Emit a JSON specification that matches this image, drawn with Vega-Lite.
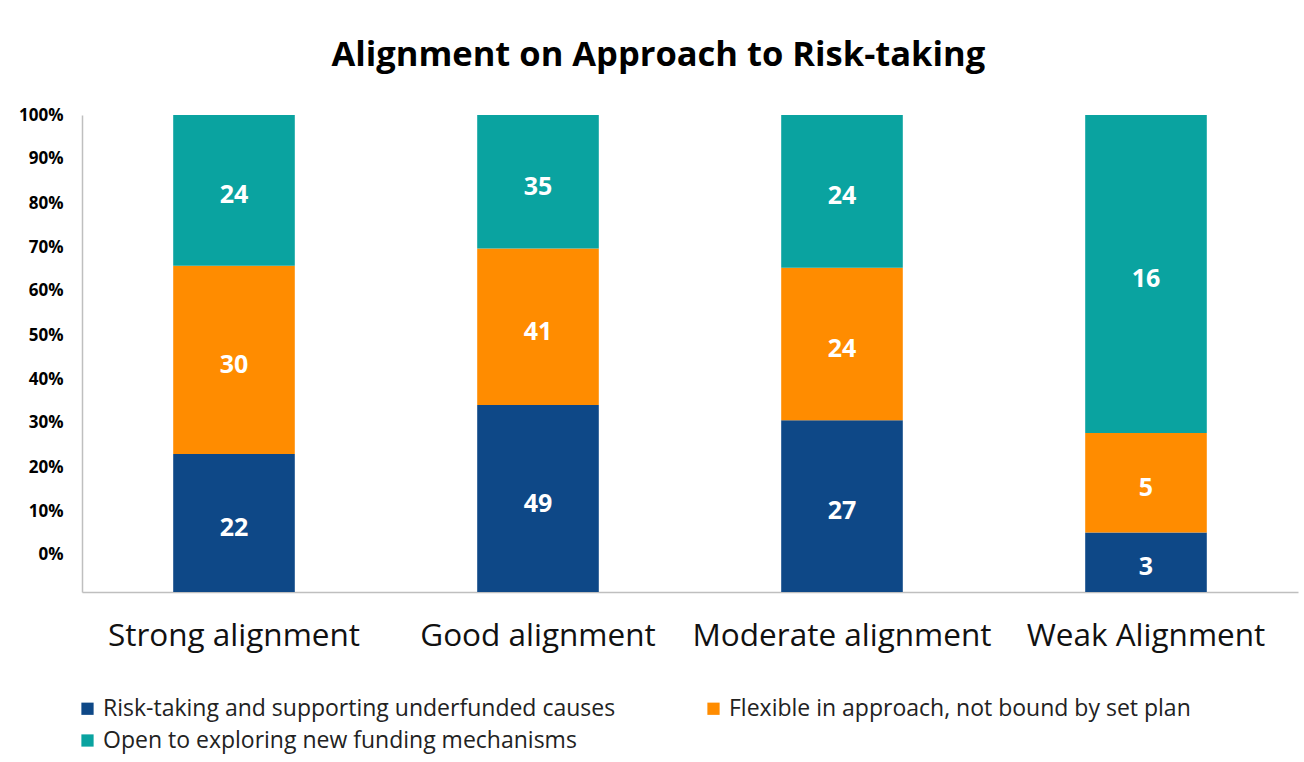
{
  "$schema": "https://vega.github.io/schema/vega-lite/v6.json",
  "autosize": "none",
  "width": 1216,
  "height": 477,
  "padding": {"left": 82, "top": 115, "right": 6, "bottom": 170},
  "background": "white",
  "config": {
    "view": {"stroke": null},
    "font": "Open Sans"
  },
  "title": {
    "text": "Alignment on Approach to Risk-taking",
    "fontSize": 34.5,
    "fontWeight": "bold",
    "font": "Open Sans",
    "color": "#000000",
    "anchor": "middle",
    "frame": "bounds",
    "offset": 33
  },
  "data": {
    "values": [
      {"group": "Strong alignment", "series": "Risk-taking and supporting underfunded causes", "s": 1, "value": 22},
      {"group": "Strong alignment", "series": "Flexible in approach, not bound by set plan", "s": 2, "value": 30},
      {"group": "Strong alignment", "series": "Open to exploring new funding mechanisms", "s": 3, "value": 24},
      {"group": "Good alignment", "series": "Risk-taking and supporting underfunded causes", "s": 1, "value": 49},
      {"group": "Good alignment", "series": "Flexible in approach, not bound by set plan", "s": 2, "value": 41},
      {"group": "Good alignment", "series": "Open to exploring new funding mechanisms", "s": 3, "value": 35},
      {"group": "Moderate alignment", "series": "Risk-taking and supporting underfunded causes", "s": 1, "value": 27},
      {"group": "Moderate alignment", "series": "Flexible in approach, not bound by set plan", "s": 2, "value": 24},
      {"group": "Moderate alignment", "series": "Open to exploring new funding mechanisms", "s": 3, "value": 24},
      {"group": "Weak Alignment", "series": "Risk-taking and supporting underfunded causes", "s": 1, "value": 3},
      {"group": "Weak Alignment", "series": "Flexible in approach, not bound by set plan", "s": 2, "value": 5},
      {"group": "Weak Alignment", "series": "Open to exploring new funding mechanisms", "s": 3, "value": 16}
    ]
  },
  "transform": [
    {"stack": "value", "groupby": ["group"], "sort": [{"field": "s", "order": "ascending"}], "offset": "normalize", "as": ["y0", "y1"]},
    {"calculate": "(datum.y0 + datum.y1) / 2", "as": "ymid"}
  ],
  "encoding": {
    "x": {
      "field": "group",
      "type": "nominal",
      "sort": ["Strong alignment", "Good alignment", "Moderate alignment", "Weak Alignment"],
      "scale": {"paddingInner": 0.6, "paddingOuter": 0.3},
      "axis": {
        "title": null,
        "labelAngle": 0,
        "labelFontSize": 31.5,
        "labelColor": "#111111",
        "labelPadding": 28,
        "labelLimit": 500,
        "ticks": false,
        "domainColor": "#bfbfbf",
        "domainWidth": 1.5,
        "labelFont": "Open Sans"
      }
    }
  },
  "layer": [
    {
      "mark": {"type": "bar"},
      "encoding": {
        "y": {
          "field": "y0",
          "type": "quantitative",
          "scale": {"domain": [0, 1], "nice": false, "zero": true},
          "axis": {
            "title": null,
            "grid": false,
            "ticks": false,
            "domainColor": "#bfbfbf",
            "domainWidth": 1.5,
            "values": [0.07757, 0.16981, 0.26205, 0.3543, 0.44654, 0.53878, 0.63103, 0.72327, 0.81551, 0.90776, 1.0],
            "labelExpr": "format(round((datum.value - 0.07757) / 0.092243) * 10, 'd') + '%'",
            "labelFontSize": 17,
            "labelFontWeight": "bold",
            "labelColor": "#000000",
            "labelPadding": 19,
            "labelFont": "Open Sans"
          }
        },
        "y2": {"field": "y1"},
        "color": {
          "field": "series",
          "type": "nominal",
          "scale": {
            "domain": ["Risk-taking and supporting underfunded causes", "Flexible in approach, not bound by set plan", "Open to exploring new funding mechanisms"],
            "range": ["#0E4887", "#FF8C00", "#0AA3A0"]
          },
          "legend": {
            "title": null,
            "orient": "none",
            "legendX": -6,
            "legendY": 582,
            "columns": 2,
            "direction": "horizontal",
            "symbolType": "square",
            "symbolSize": 150,
            "symbolStrokeWidth": 0,
            "labelFontSize": 23,
            "labelColor": "#222222",
            "labelFont": "Open Sans",
            "labelOffset": 4,
            "labelLimit": 700,
            "rowPadding": 8,
            "columnPadding": 86,
            "padding": 0
          }
        }
      }
    },
    {
      "mark": {"type": "text", "color": "white", "fontSize": 25, "fontWeight": "bold", "font": "Open Sans", "baseline": "middle", "dy": 5},
      "encoding": {
        "y": {"field": "ymid", "type": "quantitative"},
        "text": {"field": "value", "type": "quantitative"}
      }
    }
  ]
}
